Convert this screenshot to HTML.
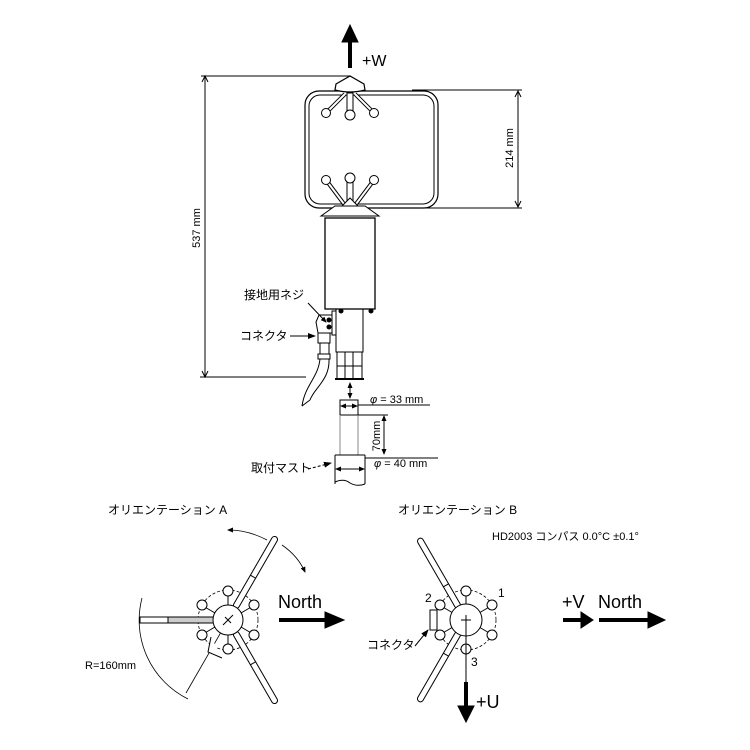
<!DOCTYPE html>
<html><head><meta charset="utf-8"><style>
html,body{margin:0;padding:0;background:#fff}
svg{display:block}
text{font-family:"Liberation Sans","Noto Sans CJK JP",sans-serif;fill:#000}
</style></head><body>
<svg width="750" height="750" viewBox="0 0 750 750" xmlns="http://www.w3.org/2000/svg">
<defs>
<marker id="ah" markerWidth="8" markerHeight="8" refX="7" refY="4" orient="auto-start-reverse" markerUnits="userSpaceOnUse"><path d="M0,1 L8,4 L0,7 z" fill="#000"/></marker>
<marker id="as" markerWidth="6" markerHeight="6" refX="5" refY="3" orient="auto-start-reverse" markerUnits="userSpaceOnUse"><path d="M0,0.5 L6,3 L0,5.5 z" fill="#000"/></marker>
</defs>
<g stroke="#000" fill="none" stroke-width="1">
<line x1="350" y1="68" x2="350" y2="40" stroke-width="4"/>
<path d="M342,42 L350,25 L358,42 z" fill="#000"/>
<line x1="205" y1="76" x2="205" y2="377"/>
<path d="M202,82 L205,76 L208,82 M202,371 L205,377 L208,371"/>
<line x1="201" y1="76" x2="350" y2="76"/>
<line x1="200" y1="377" x2="306" y2="377"/>
<line x1="518" y1="91" x2="518" y2="207"/>
<path d="M515,97 L518,91 L521,97 M515,201 L518,207 L521,201"/>
<line x1="412" y1="90" x2="522" y2="90"/>
<line x1="412" y1="208" x2="522" y2="208"/>
<rect x="305" y="91" width="133" height="117" rx="14" stroke-width="1.2"/>
<rect x="309" y="95" width="125" height="109" rx="11" stroke-width="1"/>
<path d="M335,90 L336,84 L350,76 L364,84 L365,90 Q350,94 335,90 z" fill="#fff" stroke-width="1.2"/>
<path d="M345,94 L326,113 M355,94 L374,113" stroke-width="4"/>
<path d="M345,94 L326,113 M355,94 L374,113" stroke="#fff" stroke-width="2"/>
<rect x="347" y="93" width="6" height="20" fill="#fff"/>
<circle cx="326" cy="113" r="4.5" fill="#fff"/>
<circle cx="350" cy="115" r="5" fill="#fff"/>
<circle cx="374" cy="113" r="4.5" fill="#fff"/>
<path d="M344,204 L326,180 M356,204 L374,180" stroke-width="4"/>
<path d="M344,204 L326,180 M356,204 L374,180" stroke="#fff" stroke-width="2"/>
<rect x="347" y="181" width="6" height="20" fill="#fff"/>
<path d="M342,206 L350,198 L358,206" fill="#fff"/>
<circle cx="326" cy="180" r="4.5" fill="#fff"/>
<circle cx="350" cy="178" r="5" fill="#fff"/>
<circle cx="374" cy="180" r="4.5" fill="#fff"/>
<path d="M321,216 L335,206 L365,206 L379,216 z" fill="#fff"/>
<rect x="325" y="218" width="50" height="91" stroke-width="1.3"/>
<rect x="336" y="309" width="27" height="43"/>
<circle cx="341" cy="311" r="2" fill="#000"/><circle cx="371" cy="311" r="2" fill="#000"/>
<rect x="337" y="352" width="25" height="27"/>
<line x1="345" y1="352" x2="345" y2="379"/><line x1="353" y1="352" x2="353" y2="379"/>
<line x1="337" y1="366" x2="362" y2="366"/>
<line x1="335" y1="379" x2="364" y2="379" stroke-width="2"/>
<rect x="332" y="311" width="4" height="24"/>
<path d="M316,322 L319,315 L332,315 L332,333 L318,333 z" fill="#fff"/>
<circle cx="329" cy="320" r="2" fill="#000"/><circle cx="329" cy="327" r="2" fill="#000"/>
<rect x="318" y="333" width="12" height="10"/>
<rect x="320" y="343" width="9" height="11"/>
<rect x="318" y="354" width="12" height="5"/>
<path d="M320,359 C318,378 305,385 302,406 M329,359 C330,380 314,388 310,400"/>
<path d="M302,406 L310,400"/>
<line x1="308" y1="303" x2="326" y2="322" marker-end="url(#as)"/>
<line x1="290" y1="336" x2="315" y2="336" marker-end="url(#ah)"/>
<line x1="350" y1="383" x2="350" y2="398" marker-end="url(#as)" marker-start="url(#as)"/>
<rect x="340" y="400" width="18" height="15"/>
<line x1="340" y1="415" x2="340" y2="455" stroke="#888"/>
<line x1="358" y1="415" x2="358" y2="455" stroke="#888"/>
<line x1="341" y1="406" x2="357" y2="406" marker-end="url(#as)" marker-start="url(#as)"/>
<line x1="358" y1="405" x2="430" y2="405"/>
<line x1="358" y1="415" x2="388" y2="415"/>
<line x1="384" y1="416" x2="384" y2="454" marker-end="url(#as)" marker-start="url(#as)"/>
<path d="M335,455 L365,455 M335,455 L335,484 M365,455 L365,484 M335,482 Q344,478 350,483 Q357,487 365,484"/>
<line x1="336" y1="469" x2="364" y2="469" marker-end="url(#as)" marker-start="url(#as)"/>
<line x1="365" y1="458" x2="438" y2="458"/>
<line x1="308" y1="469" x2="331" y2="463" stroke-dasharray="3,2" marker-end="url(#ah)"/>

<g transform="translate(228,620)">
<path d="M-86,-22 A88,88 0 0 0 -40,79" stroke-width="0.8"/>
<line x1="0" y1="0" x2="-42" y2="73" stroke-width="0.8"/>
<circle r="30" stroke-dasharray="3,2" stroke-width="0.8"/>
<g transform="rotate(-60)"><rect x="14" y="-3" width="82" height="6" rx="3" fill="#fff"/><line x1="50" y1="-3" x2="50" y2="3"/></g>
<g transform="rotate(60)"><rect x="14" y="-3" width="82" height="6" rx="3" fill="#fff"/><line x1="50" y1="-3" x2="50" y2="3"/></g>
<rect x="-88" y="-3" width="74" height="6" fill="#fff"/>
<rect x="-60" y="-3" width="46" height="6" fill="#ccc"/>
<path d="M-17,17 L-20,32 L-6,38" fill="#fff"/>
<g fill="#fff">
<line x1="0" y1="-15" x2="0" y2="-28"/><circle cx="0" cy="-29" r="5"/>
<line x1="0" y1="15" x2="0" y2="28"/><circle cx="0" cy="29" r="5"/>
<line x1="-13" y1="-7" x2="-25" y2="-14"/><circle cx="-26" cy="-15" r="5"/>
<line x1="13" y1="-7" x2="25" y2="-14"/><circle cx="26" cy="-15" r="5"/>
<line x1="-13" y1="7" x2="-25" y2="14"/><circle cx="-26" cy="15" r="5"/>
<line x1="13" y1="7" x2="25" y2="14"/><circle cx="26" cy="15" r="5"/>
</g>
<circle r="15" fill="#fff"/>
<path d="M-5,5 L5,-5 M-3,-3 L3,3"/>
</g>
<path d="M267,540 Q248,530 228,530" marker-end="url(#as)" stroke-width="0.8"/>
<path d="M282,545 Q298,556 305,572" marker-end="url(#as)" stroke-width="0.8"/>
<line x1="279" y1="620" x2="330" y2="620" stroke-width="4"/>
<path d="M325,612 L344,620 L325,628 z" fill="#000"/>

<g transform="translate(466,620)">
<circle r="30" stroke-dasharray="3,2" stroke-width="0.8"/>
<g transform="rotate(-120)"><rect x="14" y="-3" width="80" height="6" rx="3" fill="#fff"/><line x1="40" y1="-3" x2="40" y2="3"/></g>
<g transform="rotate(120)"><rect x="14" y="-3" width="80" height="6" rx="3" fill="#fff"/><line x1="40" y1="-3" x2="40" y2="3"/></g>
<rect x="-36" y="-10" width="7" height="20" fill="#fff"/>
<g fill="#fff">
<line x1="0" y1="-15" x2="0" y2="-28"/><circle cx="0" cy="-29" r="5"/>
<line x1="0" y1="15" x2="0" y2="28"/><circle cx="0" cy="29" r="5"/>
<line x1="-13" y1="-7" x2="-25" y2="-14"/><circle cx="-26" cy="-15" r="5"/>
<line x1="13" y1="-7" x2="25" y2="-14"/><circle cx="26" cy="-15" r="5"/>
<line x1="-13" y1="7" x2="-25" y2="14"/><circle cx="-26" cy="15" r="5"/>
<line x1="13" y1="7" x2="25" y2="14"/><circle cx="26" cy="15" r="5"/>
</g>
<circle r="16" fill="#fff"/>
<path d="M-5,0 L5,0 M0,-5 L0,62"/>
</g>
<line x1="415" y1="646" x2="428" y2="630" marker-end="url(#ah)"/>
<line x1="466" y1="682" x2="466" y2="710" stroke-width="4"/>
<path d="M458,706 L466,722 L474,706 z" fill="#000"/>
<line x1="563" y1="620" x2="585" y2="620" stroke-width="4"/>
<path d="M581,612 L593,620 L581,628 z" fill="#000"/>
<line x1="599" y1="620" x2="652" y2="620" stroke-width="4"/>
<path d="M648,612 L665,620 L648,628 z" fill="#000"/>
</g>

<text x="362" y="66" font-size="16">+W</text>
<text transform="translate(200,228) rotate(-90)" font-size="11" text-anchor="middle">537 mm</text>
<text transform="translate(513,148) rotate(-90)" font-size="11" text-anchor="middle">214 mm</text>
<text x="244" y="299" font-size="12">接地用ネジ</text>
<text x="240" y="340" font-size="12">コネクタ</text>
<text x="370" y="403" font-size="11"><tspan font-style="italic">φ</tspan> = 33 mm</text>
<text transform="translate(380,436) rotate(-90)" font-size="11" text-anchor="middle">70mm</text>
<text x="374" y="467" font-size="11"><tspan font-style="italic">φ</tspan> = 40 mm</text>
<text x="251" y="472" font-size="12">取付マスト</text>
<text x="108" y="514" font-size="12">オリエンテーション A</text>
<text x="278" y="608" font-size="18">North</text>
<text x="85" y="669" font-size="11">R=160mm</text>
<text x="398" y="514" font-size="12">オリエンテーション B</text>
<text x="492" y="540" font-size="11">HD2003 コンパス 0.0°C ±0.1°</text>
<text x="425" y="602" font-size="12">2</text>
<text x="498" y="597" font-size="12">1</text>
<text x="471" y="666" font-size="12">3</text>
<text x="367" y="649" font-size="12">コネクタ</text>
<text x="476" y="708" font-size="18">+U</text>
<text x="562" y="608" font-size="18">+V</text>
<text x="598" y="608" font-size="18">North</text>
</svg>
</body></html>
